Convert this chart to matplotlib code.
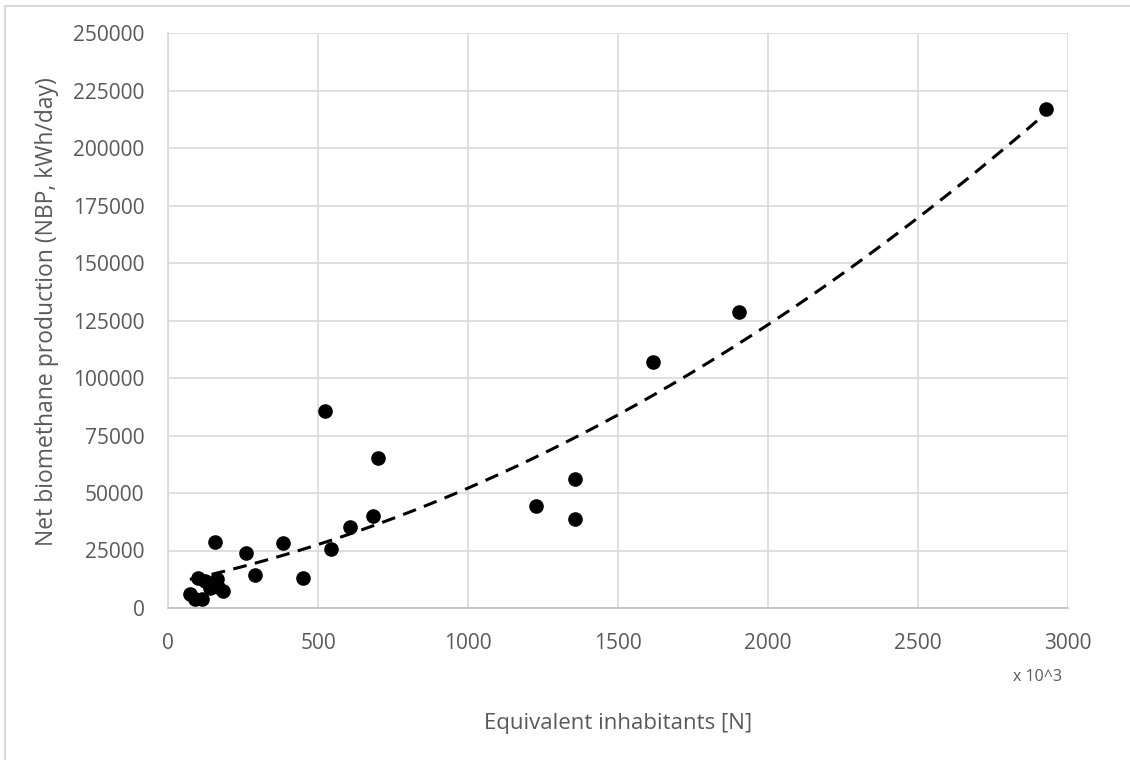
import numpy as np
import matplotlib
matplotlib.use("Agg")
import matplotlib.pyplot as plt
from matplotlib.lines import Line2D

# Equivalent inhabitants (x 10^3) and net biomethane production (kWh/day)
inhabitants = [73, 90, 112, 101, 123, 140, 162, 168, 184, 157,
               260, 290, 384, 451, 523, 542, 607, 684, 701,
               1227, 1357, 1357, 1616, 1904, 2927]
nbp = [6000, 4000, 3700, 13200, 11800, 8500, 12800, 9000, 7200, 28500,
       23800, 14200, 28400, 13100, 85500, 25800, 35300, 39800, 65100,
       44200, 56100, 38800, 107100, 128700, 216800]

xticks = [0, 500, 1000, 1500, 2000, 2500, 3000]
yticks = [0, 25000, 50000, 75000, 100000, 125000, 150000, 175000, 200000, 225000, 250000]

plt.rcParams['font.family'] = ['Open Sans', 'DejaVu Sans']
txt = '#595959'
grid = '#d9d9d9'

fig = plt.figure(figsize=(11.3, 7.6), dpi=100)
ax = fig.add_axes([168/1130, 1-608/760, 900/1130, 575/760])

x = np.array(inhabitants, dtype=float)
y = np.array(nbp, dtype=float)

# polynomial (order 2) trendline fitted to the data
coef = np.polyfit(x, y, 2)
xs = np.linspace(x.min(), x.max(), 300)
ax.plot(xs, np.polyval(coef, xs), color='black', lw=2.2, ls=(0, (4.5, 2.8)), zorder=3)

ax.plot(x, y, 'o', color='black', markersize=9.5, zorder=4)

ax.set_xlim(0, 3000)
ax.set_ylim(0, 250000)
ax.set_xticks(xticks)
ax.set_yticks(yticks)
ax.set_xticklabels([str(v) for v in xticks])
ax.set_yticklabels([str(v) for v in yticks])
ax.grid(True, color=grid, lw=1.2)
ax.set_axisbelow(True)
for s in ['top', 'right']:
    ax.spines[s].set_visible(False)
ax.spines['left'].set_color(grid)
ax.spines['left'].set_linewidth(1.2)
ax.spines['bottom'].set_color('#bfbfbf')
ax.spines['bottom'].set_linewidth(1.2)
ax.tick_params(length=0, labelsize=15, colors=txt)
ax.tick_params(axis='x', pad=18)
ax.tick_params(axis='y', pad=17)

fig.text(47/1130, 1-312/760, 'Net biomethane production (NBP, kWh/day)', fontsize=16.5,
         color=txt, rotation=90, ha='center', va='center')
fig.text(618/1130, 1-723/760, 'Equivalent inhabitants [N]', fontsize=16, color=txt,
         ha='center', va='center')
fig.text(1062/1130, 1-677/760, 'x 10^3', fontsize=11.5, color=txt, ha='right', va='center')

fig.lines.append(Line2D([5/1130, 5/1130], [0, 1-6/760], transform=fig.transFigure,
                        color=grid, lw=1.5))
fig.lines.append(Line2D([5/1130, 1], [1-6/760, 1-6/760], transform=fig.transFigure,
                        color=grid, lw=1.5))

fig.savefig('out.png', dpi=100)
